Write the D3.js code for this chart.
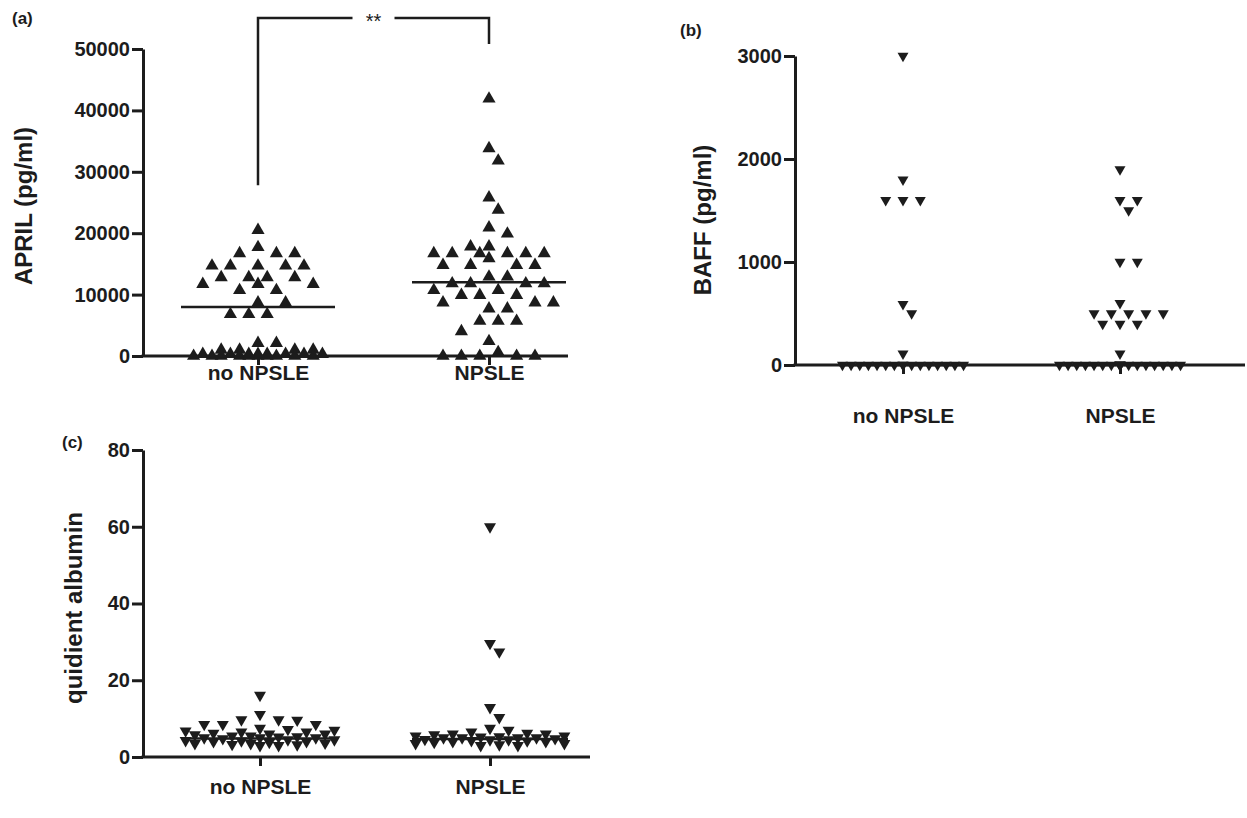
<!DOCTYPE html>
<html>
<head>
<meta charset="utf-8">
<script src="https://cdn.jsdelivr.net/npm/d3@7"></script>
<style>
  body { margin: 0; background: #fff; }
  text { font-family: "Liberation Sans", Arial, sans-serif; }
</style>
</head>
<body>
<div id="chart"></div>
<script>
// groups on the x axis of every panel
const groups = ['no NPSLE', 'NPSLE'];

// (a) APRIL (pg/ml)
const aprilNoNpsle = [20500, 17700, 16700, 16700, 16700, 14700, 14700, 14700, 14700, 14700,
    12800, 12800, 12800, 12800, 11700, 11700, 11700, 10700, 10700, 8700, 8700,
    6800, 6800, 6800, 2100, 2100, 1000, 1000, 1000, 1000,
    300, 300, 300, 300, 300, 300, 300, 300, 0, 0, 0, 0, 0, 0, 0, 0, 0, 0];
const aprilNpsle = [41900, 33800, 31800, 25800, 23800, 20900, 19900, 17800, 17800,
    16700, 16700, 16700, 16700, 16700, 16700, 15900, 14800, 14800, 14800, 14800,
    12900, 12900, 11800, 11800, 11800, 11800, 10700, 10700, 9900, 9900, 9900,
    8700, 8700, 8700, 7700, 7700, 5700, 5700, 5700, 4000, 2400, 600, 0, 0, 0, 0, 0];
const aprilMedian = [8000, 12000];
const aprilTicks = [0, 10000, 20000, 30000, 40000, 50000];

// (b) BAFF (pg/ml)
const baffNoNpsle = [3000, 1800, 1600, 1600, 1600, 590, 500, 110,
    0, 0, 0, 0, 0, 0, 0, 0, 0, 0, 0, 0, 0, 0, 0, 0];
const baffNpsle = [1900, 1600, 1600, 1500, 1000, 1000, 600, 500, 500, 500, 500, 500,
    400, 400, 400, 110, 0, 0, 0, 0, 0, 0, 0, 0, 0, 0, 0, 0, 0, 0, 0, 0, 0, 0, 0, 0];
const baffMedian = [0, 0];
const baffTicks = [0, 1000, 2000, 3000];

// (c) quidient albumin
const albNoNpsle = [16.1, 11.1, 9.7, 9.7, 9.6, 8.5, 8.5, 8.5, 7.5, 7.2, 7, 6.8, 6.5, 6.5,
    6.2, 6, 6, 5.8, 5.5, 5.5, 5.3, 5.2, 5, 5, 5, 4.8, 4.5, 4.5, 4.3, 4.2, 4, 4,
    3.8, 3.6, 3.5, 3.5, 3.3, 3.2, 3, 3];
const albNpsle = [60, 29.6, 27.4, 12.9, 10.3, 7.5, 7, 6.5, 6.2, 6, 6, 5.8, 5.5, 5.5,
    5.3, 5.2, 5, 5, 5, 5, 4.8, 4.6, 4.5, 4.5, 4.3, 4.2, 4, 4, 3.8, 3.5, 3.5, 3.2, 3, 3];
const albMedian = [4.8, 4.7];
const albTicks = [0, 20, 40, 60, 80];

const width = 1247;
const height = 818;
const ink = '#1c1c1c';
const font = '"Liberation Sans", Arial, sans-serif';

const svg = d3.select('#chart').append('svg')
    .attr('width', width)
    .attr('height', height);

svg.append('rect').attr('width', width).attr('height', height).attr('fill', '#fff');

// Simple column scatter layout: place each point as near the centre as it can
// without overlapping points already placed (GraphPad-like)
function swarm(values, y, cx, step, maxHalf, minDist) {
    const placed = [];
    const half = step / 2;
    const kMax = Math.floor(maxHalf / half);
    const ks = [0];
    for (let k = 1; k <= kMax; k++) ks.push(k, -k);

    values.slice().sort((a, b) => b - a).forEach(v => {
        const py = y(v);
        let best = cx, bestD = -1;
        for (const k of ks) {
            const px = cx + k * half;
            let dmin = Infinity;
            placed.forEach(p => {
                const d = Math.hypot(p.x - px, p.y - py);
                if (d < dmin) dmin = d;
            });
            if (dmin >= minDist) { best = px; break; }
            if (dmin > bestD + 0.01) { bestD = dmin; best = px; }
        }
        placed.push({ x: best, y: py, v: v });
    });
    return placed;
}

function drawPanel(o) {
    const g = svg.append('g');
    const y = d3.scaleLinear().domain(o.domain).range(o.yRange);
    const x = d3.scalePoint().domain(groups).range(o.xRange);

    // points
    const sym = d3.symbol().type(d3.symbolTriangle).size(o.size);
    o.series.forEach((vals, i) => {
        const pts = swarm(vals, y, x(groups[i]), o.step, o.maxHalf, o.minDist);
        g.selectAll(null)
            .data(pts)
            .enter().append('path')
            .attr('d', sym)
            .attr('fill', ink)
            .attr('transform', d => `translate(${d.x},${d.y})` + (o.down ? ' rotate(180)' : ''));
    });

    // median lines
    g.selectAll(null)
        .data(o.median)
        .enter().append('line')
        .attr('x1', (d, i) => x(groups[i]) - o.lineHalf)
        .attr('x2', (d, i) => x(groups[i]) + o.lineHalf)
        .attr('y1', d => y(d))
        .attr('y2', d => y(d))
        .attr('stroke', ink)
        .attr('stroke-width', 2.5);

    // y axis
    const yAxis = g.append('g')
        .attr('transform', `translate(${o.x0},0)`)
        .call(d3.axisLeft(y).tickValues(o.ticks).tickFormat(d3.format('d'))
            .tickSize(11).tickSizeOuter(0).tickPadding(2));

    // x axis line and category ticks
    g.append('line')
        .attr('x1', o.x0 - 1.5).attr('x2', o.xEnd)
        .attr('y1', y(0)).attr('y2', y(0))
        .attr('stroke', ink).attr('stroke-width', 3);

    const xAxis = g.append('g')
        .attr('transform', `translate(0,${y(0)})`)
        .call(d3.axisBottom(x).tickSize(9).tickPadding(o.labelPad));
    xAxis.select('.domain').remove();

    [yAxis, xAxis].forEach(a => {
        a.selectAll('.domain, .tick line').attr('stroke', ink).attr('stroke-width', 3);
        a.selectAll('text')
            .attr('fill', ink)
            .attr('font-weight', 'bold')
            .attr('font-family', font);
    });
    yAxis.selectAll('text').attr('font-size', 20);
    xAxis.selectAll('text').attr('font-size', 21);

    // axis title
    g.append('text')
        .attr('transform', `translate(${o.titleX},${o.titleY}) rotate(-90)`)
        .attr('text-anchor', 'middle')
        .attr('font-size', 24)
        .attr('font-weight', 'bold')
        .attr('fill', ink)
        .text(o.title);

    // panel letter
    g.append('text')
        .attr('x', o.letterX)
        .attr('y', o.letterY)
        .attr('font-size', 17)
        .attr('font-weight', 'bold')
        .attr('fill', ink)
        .text(o.letter);

    return { x: x, y: y, g: g };
}

const pa = drawPanel({
    domain: [0, 50000], yRange: [356, 49], xRange: [258, 489],
    x0: 143, xEnd: 568, ticks: aprilTicks,
    series: [aprilNoNpsle, aprilNpsle], median: aprilMedian,
    size: 75, down: false, step: 18.4, maxHalf: 72, minDist: 14,
    lineHalf: 77, labelPad: 0, 
    title: 'APRIL (pg/ml)', titleX: 32, titleY: 206,
    letter: '(a)', letterX: 12, letterY: 24
});

drawPanel({
    domain: [0, 3000], yRange: [365, 56], xRange: [903, 1120],
    x0: 795, xEnd: 1245, ticks: baffTicks,
    series: [baffNoNpsle, baffNpsle], median: baffMedian,
    size: 52, down: true, step: 17.3, maxHalf: 64, minDist: 11,
    lineHalf: 64, labelPad: 34,
    title: 'BAFF (pg/ml)', titleX: 711, titleY: 220,
    letter: '(b)', letterX: 680, letterY: 36
});

drawPanel({
    domain: [0, 80], yRange: [757, 450], xRange: [260, 490],
    x0: 143, xEnd: 590, ticks: albTicks,
    series: [albNoNpsle, albNpsle], median: albMedian,
    size: 62, down: true, step: 18.6, maxHalf: 76, minDist: 12,
    lineHalf: 78, labelPad: 13,
    title: 'quidient albumin', titleX: 82, titleY: 608,
    letter: '(c)', letterX: 62, letterY: 448
});

// significance bracket between the two APRIL groups
const bx1 = pa.x(groups[0]), bx2 = pa.x(groups[1]);
const bTop = 18;
const bracket = pa.g.append('g')
    .attr('stroke', ink).attr('stroke-width', 2.5).attr('fill', 'none');
bracket.append('path').attr('d', `M${bx1},${pa.y(27800)}V${bTop}H${(bx1 + bx2) / 2 - 21}`);
bracket.append('path').attr('d', `M${(bx1 + bx2) / 2 + 21},${bTop}H${bx2}V${pa.y(50000) - 5}`);
pa.g.append('text')
    .attr('x', (bx1 + bx2) / 2)
    .attr('y', bTop + 10)
    .attr('text-anchor', 'middle')
    .attr('font-size', 20)
    .attr('fill', ink)
    .text('**');
</script>
</body>
</html>
